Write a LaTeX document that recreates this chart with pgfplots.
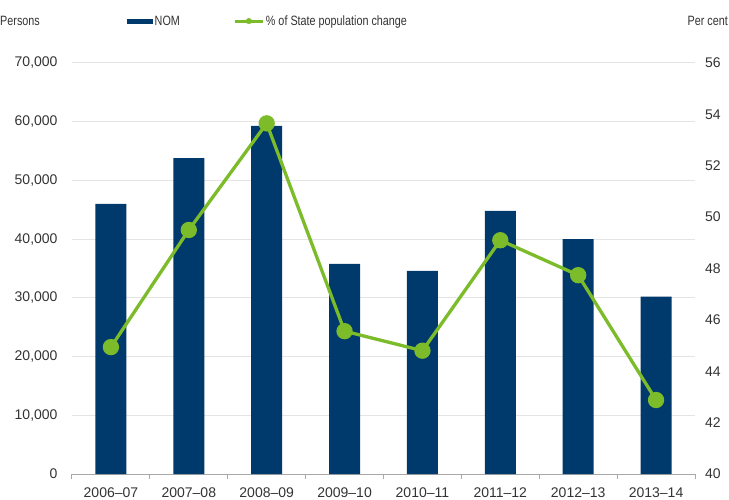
\documentclass[border=0pt]{standalone}
\usepackage{fontspec}
\setmainfont{Liberation Sans}
\newfontfamily\narrowfont{Liberation Sans}[FakeStretch=0.8]
\usepackage{pgfplots}
\pgfplotsset{compat=1.18}
\definecolor{nomblue}{HTML}{003A6C}
\definecolor{pctgreen}{HTML}{7CBB2A}
\definecolor{txt}{HTML}{333333}
\definecolor{gridc}{HTML}{E4E4E4}
\definecolor{axc}{HTML}{A8A8A8}

\pgfplotsset{
  base/.style={
    at={(72pt,25pt)}, anchor=south west,
    scale only axis, width=623pt, height=411pt,
    xmin=-0.5, xmax=7.5,
    /pgf/number format/assume math mode=true,
    /pgf/number format/1000 sep={,},
    tick label style={font=\fontsize{14}{16}\selectfont, text=txt},
  }
}

\begin{document}
\begin{tikzpicture}[x=1pt,y=1pt]
\useasboundingbox (0,0) rectangle (729,499);

\begin{axis}[
  base,
  ymin=0, ymax=70000,
  ytick={0,10000,...,70000},
  scaled y ticks=false,
  axis x line*=bottom, axis y line*=left,
  y axis line style={draw=none},
  x axis line style={axc, line width=1pt, -},
  ytick style={draw=none},
  ymajorgrids, grid style={gridc, line width=1pt},
  yticklabel style={inner sep=0pt, xshift=-10pt},
  xtick={0,...,7},
  xticklabels={2006–07,2007–08,2008–09,2009–10,2010–11,2011–12,2012–13,2013–14},
  major x tick style={draw=none},
  minor xtick={-0.5,0.5,...,7.5},
  minor x tick style={axc, line width=1pt},
  minor tick length=5pt, tick align=outside,
  xticklabel style={inner sep=0pt, anchor=north, yshift=-9pt},
  legend columns=-1,
  legend style={at={(0.0883,1.102)}, anchor=west, draw=none, fill=none,
    inner sep=0pt, font=\narrowfont\fontsize{13.5}{15}\selectfont, text=txt,
    /tikz/every even column/.append style={column sep=52pt},
    nodes={inner sep=1.5pt}},
]
\addplot[ybar, bar width=31pt, fill=nomblue, draw=none,
  legend image code/.code={\fill[nomblue] (0pt,-2.5pt) rectangle (26pt,2.5pt);}]
  coordinates {
  (0,46000) (1,53800) (2,59300) (3,35800)
  (4,34600) (5,44800) (6,40000) (7,30200)
};
\addlegendentry{NOM}
\addlegendimage{legend image code/.code={
  \draw[pctgreen, line width=3pt] (0pt,0pt) -- (28pt,0pt);
  \fill[pctgreen] (14pt,0pt) circle (2.8pt);}}
\addlegendentry{\% of State population change}
\end{axis}

\begin{axis}[
  base,
  ymin=40, ymax=56,
  ytick={40,42,...,56},
  axis y line*=right, axis x line=none,
  y axis line style={draw=none},
  ytick style={draw=none},
  yticklabel style={inner sep=0pt, anchor=west, xshift=10pt},
]
\addplot[pctgreen, line width=3.3pt, mark=*, mark size=6.5pt,
  mark options={fill=pctgreen, draw=none}]
  coordinates {
  (0,44.94) (1,49.5) (2,53.65) (3,45.56)
  (4,44.8) (5,49.1) (6,47.74) (7,42.88)
};
\end{axis}

\node[anchor=west, inner sep=0pt, text=txt, font=\narrowfont\fontsize{13.5}{15}\selectfont] at (0,478) {Persons};
\node[anchor=east, inner sep=0pt, text=txt, font=\narrowfont\fontsize{13.5}{15}\selectfont] at (728,478) {Per cent};
\end{tikzpicture}
\end{document}
